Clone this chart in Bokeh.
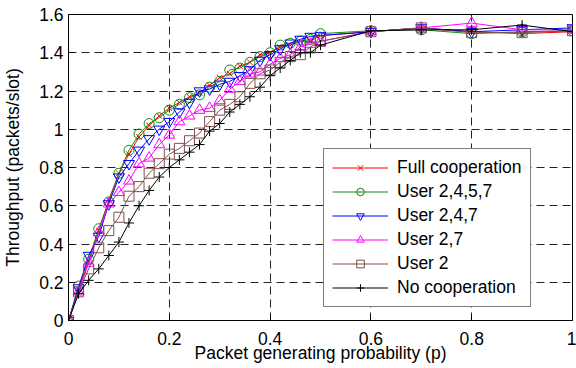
from bokeh.plotting import figure
from bokeh.models import Range1d, FixedTicker, CustomJSTickFormatter, Legend, LegendItem
from bokeh.embed import file_html
from bokeh.resources import INLINE

p_vals = [0.0, 0.02, 0.04, 0.06, 0.08, 0.10, 0.12, 0.14, 0.16, 0.18,
          0.20, 0.22, 0.24, 0.26, 0.28, 0.30, 0.32, 0.34, 0.36, 0.38,
          0.40, 0.42, 0.44, 0.46, 0.48, 0.50, 0.6, 0.7, 0.8, 0.9, 1.0]

full_coop = [0, .16, .31, .47, .63, .77, .87, .96, 1.02, 1.07,
             1.11, 1.14, 1.17, 1.19, 1.23, 1.27, 1.29, 1.33, 1.35, 1.39,
             1.40, 1.43, 1.44, 1.46, 1.46, 1.49, 1.51, 1.53, 1.51, 1.50, 1.51]
user_2457 = [0, .18, .32, .48, .62, .77, .89, .975, 1.03, 1.06,
             1.10, 1.13, 1.165, 1.18, 1.22, 1.25, 1.31, 1.32, 1.35, 1.38,
             1.40, 1.44, 1.45, 1.46, 1.47, 1.50, 1.515, 1.52, 1.50, 1.51, 1.515]
user_247 = [0, .17, .34, .44, .61, .75, .82, .89, .95, 1.00,
            1.04, 1.09, 1.14, 1.20, 1.21, 1.235, 1.25, 1.28, 1.31, 1.36,
            1.39, 1.42, 1.45, 1.47, 1.485, 1.49, 1.51, 1.53, 1.51, 1.52, 1.53]
user_27 = [0, .15, .30, .46, .61, .67, .73, .82, .85, .92,
           .97, 1.04, 1.07, 1.10, 1.11, 1.15, 1.21, 1.25, 1.29, 1.30,
           1.34, 1.37, 1.39, 1.43, 1.445, 1.46, 1.51, 1.53, 1.555, 1.52, 1.52]
user_2 = [0, .15, .27, .38, .47, .54, .65, .70, .77, .82,
          .87, .90, .94, .98, 1.04, 1.10, 1.13, 1.17, 1.24, 1.29,
          1.31, 1.35, 1.38, 1.39, 1.43, 1.46, 1.51, 1.53, 1.505, 1.505, 1.515]
no_coop = [0, .14, .21, .27, .34, .41, .51, .60, .68, .75,
           .80, .84, .88, .92, .99, 1.03, 1.09, 1.13, 1.17, 1.22,
           1.28, 1.32, 1.36, 1.40, 1.40, 1.44, 1.515, 1.52, 1.52, 1.545, 1.51]

series_names = ["Full cooperation", "User 2,4,5,7", "User 2,4,7", "User 2,7", "User 2", "No cooperation"]
series_vals = [full_coop, user_2457, user_247, user_27, user_2, no_coop]
series_colors = ["#ff0000", "#128a12", "#0000ff", "#ff00ff", "#7f4f4c", "#000000"]
series_markers = ["x", "circle", "inverted_triangle", "triangle", "square", "cross"]
series_sizes = [8, 10, 11, 11, 10, 10]

x_ticks = [0, 0.2, 0.4, 0.6, 0.8, 1.0]
y_ticks = [0, 0.2, 0.4, 0.6, 0.8, 1.0, 1.2, 1.4, 1.6]

FONT = "Liberation Sans"
FS = "17.5px"

p = figure(width=576, height=368, output_backend="svg", toolbar_location=None,
           x_range=Range1d(0, 1), y_range=Range1d(0, 1.6),
           min_border_left=68, min_border_right=4, min_border_top=14, min_border_bottom=48)

fmt = CustomJSTickFormatter(code="return String(Math.round(tick*10)/10);")
for ax, ticks in ((p.xaxis[0], x_ticks), (p.yaxis[0], y_ticks)):
    ax.ticker = FixedTicker(ticks=ticks)
    ax.formatter = fmt
    ax.major_label_text_font = FONT
    ax.major_label_text_font_size = FS
    ax.major_label_text_color = "black"
    ax.axis_label_text_font = FONT
    ax.axis_label_text_font_size = FS
    ax.axis_label_text_font_style = "normal"
    ax.axis_label_text_color = "black"
    ax.major_tick_in = 5
    ax.major_tick_out = 0
    ax.minor_tick_line_color = None
    ax.axis_line_color = "black"
    ax.major_tick_line_color = "black"

p.xaxis.axis_label = "Packet generating probability (p)"
p.yaxis.axis_label = "Throughput (packets/slot)"
p.xaxis.major_label_standoff = 11
p.xaxis.axis_label_standoff = -5
p.yaxis.major_label_standoff = 5
p.yaxis.axis_label_standoff = 13

for g in (p.xgrid[0], p.ygrid[0]):
    g.grid_line_color = "#222222"
    g.grid_line_dash = "8 5"
    g.grid_line_width = 1
p.xgrid.ticker = FixedTicker(ticks=x_ticks)
p.ygrid.ticker = FixedTicker(ticks=y_ticks)

p.outline_line_color = "black"
p.outline_line_width = 1
p.outline_line_alpha = 1
p.background_fill_color = "white"
p.border_fill_color = "white"

items = []
for name, vals, col, mk, sz in zip(series_names, series_vals, series_colors, series_markers, series_sizes):
    r1 = p.line(p_vals, vals, line_color=col, line_width=1)
    r2 = p.scatter(p_vals, vals, marker=mk, size=sz, line_color=col, fill_color=None, line_width=1)
    items.append(LegendItem(label=name, renderers=[r1, r2]))

legend = Legend(items=items, location=(255, 13), margin=0, padding=8, spacing=3,
                glyph_width=56, glyph_height=19, label_height=19, label_standoff=9,
                label_text_font=FONT, label_text_font_size=FS, label_text_color="black",
                border_line_color="black", border_line_width=1, background_fill_color="white",
                background_fill_alpha=1)
p.add_layout(legend, "center")

open("out.html", "w").write(file_html(p, INLINE))
